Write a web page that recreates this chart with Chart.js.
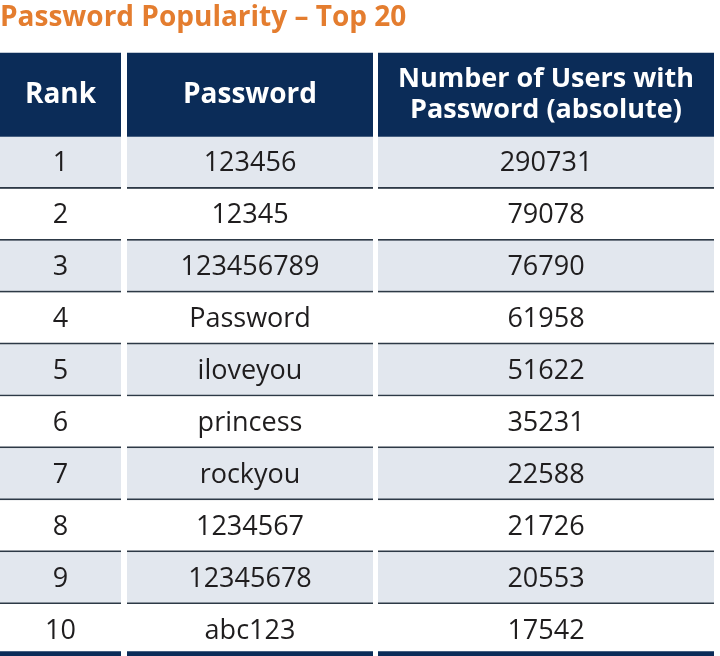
<!DOCTYPE html>
<html>
<head>
<meta charset="utf-8">
<script src="https://cdn.jsdelivr.net/npm/chart.js@4.4.1/dist/chart.umd.min.js"></script>
<style>
    html, body { margin: 0; padding: 0; background: #ffffff; }
    #box { width: 720px; height: 656px; }
</style>
</head>
<body>
<div id="box"><canvas id="passwordTable"></canvas></div>
<script>
// table content
const HEADERS = [['Rank'], ['Password'], ['Number of Users with', 'Password (absolute)']];
const RANKS = ['1', '2', '3', '4', '5', '6', '7', '8', '9', '10'];
const PASSWORDS = ['123456', '12345', '123456789', 'Password', 'iloveyou', 'princess', 'rockyou', '1234567', '12345678', 'abc123'];
const USERS = [290731, 79078, 76790, 61958, 51622, 35231, 22588, 21726, 20553, 17542];

// layout (x units = page pixels, y units = body rows)
const COL_EDGES = [[0, 121], [127, 373], [378, 714]];
const HEADER_SPAN = 1.62;

const NAVY = '#0b2c58';
const SHADE = '#e2e7ee';
const LINE = '#2d3946';
const TEXT = '#1f1d1e';

const columns = [RANKS, PASSWORDS, USERS.map(v => String(v))];
const datasets = [];

// header cells, one bar per column
HEADERS.forEach((lines, c) => {
    datasets.push({
        cellText: [lines],
        isHeader: true,
        data: [{y: -HEADER_SPAN / 2, x: COL_EDGES[c]}],
        backgroundColor: NAVY,
        borderWidth: 0,
        categoryPercentage: HEADER_SPAN,
        barPercentage: 1
    });
});

// body cells, alternating shade with a dark rule under each row
columns.forEach((values, c) => {
    datasets.push({
        cellText: values.map(v => [v]),
        isHeader: false,
        data: values.map((v, i) => ({y: i + 0.5, x: COL_EDGES[c]})),
        backgroundColor: ctx => ctx.dataIndex % 2 === 0 ? SHADE : '#ffffff',
        borderColor: ctx => ctx.dataIndex === values.length - 1 ? NAVY : LINE,
        borderWidth: ctx => ({top: 0, left: 0, right: 0, bottom: ctx.dataIndex === values.length - 1 ? 5 : 2}),
        borderSkipped: false,
        categoryPercentage: 1,
        barPercentage: 1
    });
});

// writes the words into each cell, centred on the bar
const cellTextPlugin = {
    id: 'cellText',
    afterDatasetsDraw(chart) {
        const ctx = chart.ctx;
        ctx.save();
        ctx.textAlign = 'center';
        ctx.textBaseline = 'middle';
        chart.data.datasets.forEach((ds, d) => {
            const meta = chart.getDatasetMeta(d);
            meta.data.forEach((bar, i) => {
                const p = bar.getProps(['x', 'y', 'base'], true);
                const cx = (p.x + p.base) / 2;
                const lines = ds.cellText[i];
                if (ds.isHeader) {
                    ctx.fillStyle = '#ffffff';
                    const size = lines.length > 1 ? 27 : 28;
                    const gap = 31;
                    ctx.font = 'bold ' + size + 'px "Open Sans"';
                    lines.forEach((t, k) => {
                        ctx.fillText(t, cx, p.y + (k - (lines.length - 1) / 2) * gap);
                    });
                } else {
                    ctx.fillStyle = TEXT;
                    ctx.font = '27px "Open Sans"';
                    ctx.fillText(lines[0], cx, p.y + 1);
                }
            });
        });
        ctx.restore();
    }
};

new Chart(document.getElementById('passwordTable'), {
    type: 'bar',
    data: {datasets: datasets},
    plugins: [cellTextPlugin],
    options: {
        indexAxis: 'y',
        responsive: true,
        maintainAspectRatio: false,
        animation: false,
        grouped: false,
        layout: {padding: 0},
        scales: {
            x: {type: 'linear', min: 0, max: 720, display: false},
            y: {
                type: 'linear',
                reverse: true,
                min: -HEADER_SPAN,
                max: RANKS.length,
                display: false,
                afterBuildTicks: axis => { axis.ticks = []; }
            }
        },
        plugins: {
            legend: {display: false},
            tooltip: {enabled: false},
            title: {
                display: true,
                text: 'Password Popularity – Top 20',
                align: 'start',
                color: '#e47d2f',
                font: {family: '"Open Sans"', size: 28, weight: 'bold', lineHeight: 1.2},
                padding: {top: 1, bottom: 18}
            }
        }
    }
});
</script>
</body>
</html>
